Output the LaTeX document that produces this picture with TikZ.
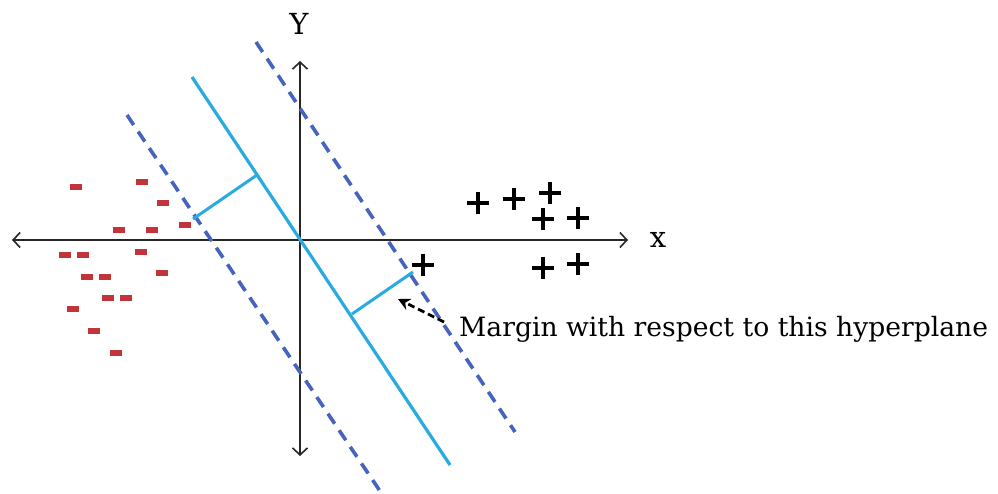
\documentclass[tikz,border=0pt]{standalone}
\usepackage{fontspec}
\newfontfamily\labfont{DejaVu Serif}
\usetikzlibrary{arrows.meta}
\definecolor{minusred}{RGB}{192,52,58}
\definecolor{hypcyan}{RGB}{41,171,226}
\definecolor{margblue}{RGB}{70,100,190}
\tikzset{
  axisline/.style={line width=1.9pt, black!85, {Straight Barb[length=7pt,width=15pt,line width=1.6pt]}-{Straight Barb[length=7pt,width=15pt,line width=1.6pt]}},
  hyper/.style={line width=3.2pt, hypcyan},
  margin/.style={line width=3.6pt, margblue, dash pattern=on 12pt off 8pt},
  perp/.style={line width=3pt, hypcyan},
  minuspt/.style={fill=minusred, draw=none, minimum width=12pt, minimum height=5.5pt, inner sep=0pt, rectangle},
  pluspt/.style={inner sep=0pt, minimum size=22pt, path picture={
      \draw[line width=4.8pt, black] (path picture bounding box.west) -- (path picture bounding box.east);
      \draw[line width=4.8pt, black] (path picture bounding box.north) -- (path picture bounding box.south);}},
  axislabel/.style={font=\labfont\fontsize{29}{32}\selectfont, inner sep=0pt},
  annot/.style={font=\labfont\fontsize{26.6}{30}\selectfont, inner sep=0pt, anchor=base west},
  annarrow/.style={line width=2.8pt, black, dash pattern=on 7pt off 4pt, -{Stealth[length=12pt,width=12pt]}}
}
\begin{document}
\begin{tikzpicture}[x=1pt,y=-1pt]
\useasboundingbox (0,0) rectangle (998,494);
% axes
\coordinate (xl) at (12,240);
\coordinate (xr) at (628,240);
\coordinate (yt) at (300,61);
\coordinate (yb) at (300,456);
\draw[axisline] (xl) -- (xr);
\draw[axisline] (yt) -- (yb);
\node[axislabel] (ylab) at (299,24) {Y};
\node[axislabel] (xlab) at (658,240) {x};
% hyperplane and margins
\coordinate (h1) at (192,77);
\coordinate (h2) at (450,465);
\coordinate (m1a) at (127,115);
\coordinate (m1b) at (382,494);
\coordinate (m2a) at (256,42);
\coordinate (m2b) at (515,432);
\draw[margin] (m1a) -- (m1b);
\draw[margin] (m2a) -- (m2b);
\draw[hyper] (h1) -- (h2);
% perpendicular segments
\coordinate (p1a) at (193,219);
\coordinate (p1b) at (257,175);
\coordinate (p2a) at (352,314);
\coordinate (p2b) at (413,272);
\draw[perp] (p1a) -- (p1b);
\draw[perp] (p2a) -- (p2b);
% minus points
\foreach \i/\x/\y in {1/76/187,2/142/182,3/163/203,4/185/225,5/119/230,6/152/230,7/65/255,8/83/255,9/141/252,10/87/277,11/105/277,12/162/273,13/108/298,14/126/298,15/73/309,16/94/331,17/116/353}
  \node[minuspt] (n\i) at (\x,\y) {};
% plus points
\foreach \i/\x/\y in {1/478/203,2/514/199,3/550/193,4/543/219,5/578/218,6/543/268,7/578/264,8/423/265}
  \node[pluspt] (p\i) at (\x,\y) {};
% annotation
\node[annot] (note) at (459,336) {Margin with respect to this hyperplane};
\coordinate (at) at (444,322);
\coordinate (ah) at (398,299);
\draw[annarrow] (at) -- (ah);
\end{tikzpicture}
\end{document}
